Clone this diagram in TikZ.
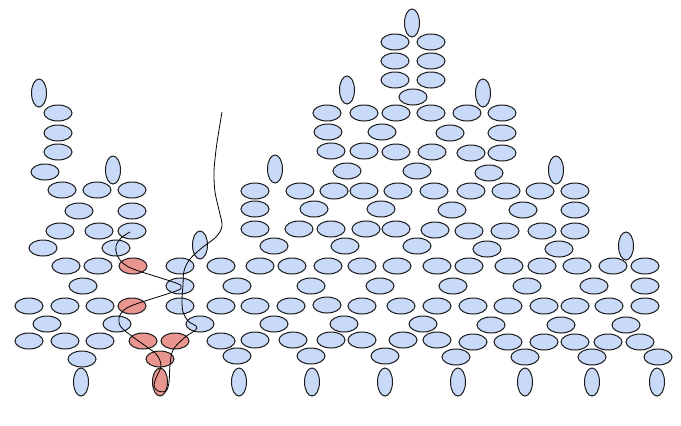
\documentclass[tikz,border=0pt]{standalone}
\usetikzlibrary{shapes.geometric}
\definecolor{beadblue}{HTML}{C9DAF8}
\definecolor{beadred}{HTML}{E8968F}
\tikzset{
  beadbase/.style={ellipse, draw=black!90, line width=1pt, inner sep=0pt, outer sep=0pt},
  hb/.style={beadbase, fill=beadblue, minimum width=28pt, minimum height=16pt},
  vb/.style={beadbase, fill=beadblue, minimum width=15pt, minimum height=28pt},
  hr/.style={beadbase, fill=beadred, minimum width=28pt, minimum height=16pt},
  vr/.style={beadbase, fill=beadred, minimum width=15pt, minimum height=28pt},
  thread/.style={draw=black, line width=0.8pt}
}
\begin{document}
\begin{tikzpicture}[x=1pt,y=-1pt]
\useasboundingbox (0,0) rectangle (681,426);
\fill[white] (0,0) rectangle (681,426);
% blue horizontal beads
\foreach \px/\py [count=\i] in {
58/113, 58/133, 58/152, 45/172,
62/190, 97/190, 132/190,
79/211, 132/211,
60/231, 99/231, 132/231,
43/248, 116/248,
66/266, 98/266, 180/266, 221/266,
83/286, 180/286,
29/306, 65/306, 100/306, 180/306, 221/306,
47/324, 117/324, 200/324,
29/341, 65/341, 100/341, 221/341,
82/359,
395/42, 431/42, 395/61, 431/61, 395/80, 431/80, 413/97,
327/113, 364/113, 396/113, 431/113, 467/113, 502/113,
328/132, 382/132, 450/133, 502/133,
331/151, 364/151, 396/152, 432/152, 471/153, 502/153,
347/171, 417/171, 489/173,
255/191, 300/191, 334/191, 364/191, 398/191, 434/191, 471/191, 506/191, 540/191, 575/191,
255/209, 314/209, 381/209, 452/210, 523/210, 575/210,
255/229, 299/229, 331/229, 366/229, 396/229, 435/230, 469/231, 505/231, 542/231, 575/231,
274/246, 345/246, 417/246, 487/249, 559/249,
260/266, 292/266, 328/266, 362/266, 397/266, 437/266, 469/266, 509/266, 542/266, 577/266, 613/266, 645/266,
237/286, 311/286, 380/286, 453/286, 527/286, 594/286, 645/286,
255/306, 291/306, 327/305, 362/306, 401/306, 437/306, 473/306, 508/306, 544/306, 575/306, 609/306, 645/306,
274/324, 344/324, 423/324, 491/325, 561/325, 626/325,
255/340, 293/340, 331/340, 362/340, 403/340, 437/340, 473/342, 508/342, 544/342, 575/342, 608/342, 640/342,
237/356, 311/356, 385/356, 456/357, 525/357, 592/357, 658/357}
  \node[hb] (h\i) at (\px,\py) {};
% blue vertical beads
\foreach \px/\py [count=\i] in {
39/93, 113/170, 200/245, 81/382, 412/23, 347/90, 483/93, 275/169, 556/170,
626/246, 239/382, 312/382, 385/382, 458/382, 525/382, 592/382, 657/382}
  \node[vb] (v\i) at (\px,\py) {};
% red beads
\foreach \px/\py [count=\i] in {133/266, 132/306, 143/341, 175/341, 160/359}
  \node[hr] (r\i) at (\px,\py) {};
\node[vr] (rv) at (160,382) {};
% thread
\draw[thread] plot[smooth, tension=0.55] coordinates {
(130,232) (121,238) (116,246) (117,255) (124,264) (136,270) (176,283) (181,287)
(176,291) (136,304) (124,310) (119,318) (121,327) (133,337) (147,347) (157,355)
(161,366) (156,378) (154,386) (158,391) (166,391) (169,382) (170,365) (173,350)
(184,338) (197,328) (188,321) (183,312) (182,300) (183,285) (184,271) (190,259)
(203,247) (216,237) (222,226) (219,210) (215,192) (214,172) (216,150) (219,130) (222,112)};
\end{tikzpicture}
\end{document}
